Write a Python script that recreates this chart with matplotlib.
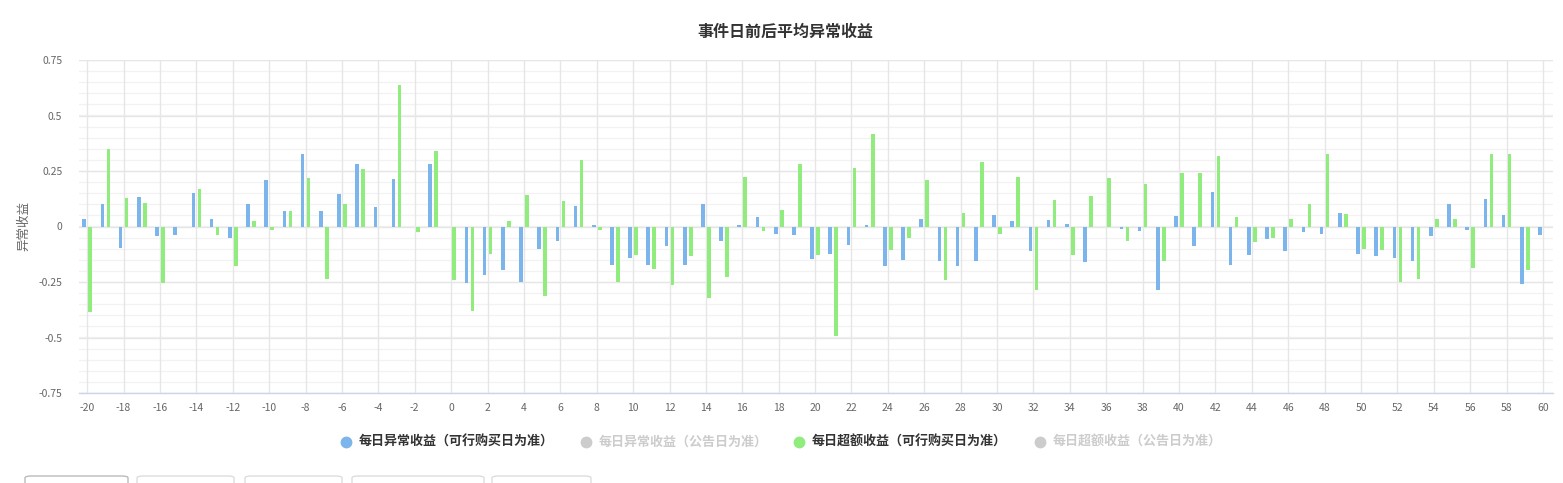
import matplotlib
matplotlib.use("Agg")
import matplotlib.pyplot as plt
from matplotlib.patches import FancyBboxPatch
from matplotlib.lines import Line2D
import numpy as np

plt.rcParams['font.family'] = ['Noto Sans CJK SC', 'DejaVu Sans']

title = "事件日前后平均异常收益"
y_label = "异常收益"
days = list(range(-20, 61))
blue_vals = [0.033, 0.102, -0.095, 0.135, -0.045, -0.039, 0.152, 0.033, -0.054, 0.102,
             0.211, 0.070, 0.328, 0.070, 0.147, 0.280, 0.089, 0.216, 0.0, 0.280,
             0.0, -0.255, -0.219, -0.198, -0.249, -0.100, -0.066, 0.093, 0.007, -0.172,
             -0.140, -0.172, -0.090, -0.172, 0.102, -0.067, 0.007, 0.042, -0.035, -0.040,
             -0.146, -0.122, -0.085, 0.007, -0.180, -0.150, 0.036, -0.155, -0.180, -0.157,
             0.051, 0.024, -0.112, 0.028, 0.010, -0.162, 0.0, -0.013, -0.020, -0.288,
             0.048, -0.090, 0.156, -0.172, -0.130, -0.058, -0.110, -0.025, -0.035, 0.060,
             -0.122, -0.135, -0.140, -0.155, -0.045, 0.102, -0.016, 0.124, 0.052, -0.261,
             -0.039]
green_vals = [-0.387, 0.348, 0.129, 0.105, -0.255, 0.0, 0.170, -0.039, -0.177, 0.026,
              -0.015, 0.070, 0.220, -0.237, 0.102, 0.261, 0.0, 0.636, -0.027, 0.339,
              -0.240, -0.382, -0.126, 0.024, 0.142, -0.312, 0.115, 0.301, -0.016, -0.249,
              -0.130, -0.192, -0.264, -0.135, -0.324, -0.226, 0.225, -0.022, 0.074, 0.280,
              -0.130, -0.495, 0.264, 0.415, -0.107, -0.054, 0.211, -0.240, 0.060, 0.292,
              -0.035, 0.223, -0.285, 0.118, -0.130, 0.138, 0.219, -0.067, 0.192, -0.157,
              0.241, 0.241, 0.316, 0.042, -0.072, -0.050, 0.032, 0.100, 0.325, 0.055,
              -0.100, -0.108, -0.249, -0.237, 0.036, 0.032, -0.186, 0.325, 0.325, -0.195,
              0.0]
series_names = ["每日异常收益（可行购买日为准）", "每日异常收益（公告日为准）",
                "每日超额收益（可行购买日为准）", "每日超额收益（公告日为准）"]
series_visible = [True, False, True, False]
series_colors = ["#7cb5ec", "#cccccc", "#90ed7d", "#cccccc"]
y_ticks = [-0.75, -0.5, -0.25, 0, 0.25, 0.5, 0.75]
y_tick_labels = ["-0.75", "-0.5", "-0.25", "0", "0.25", "0.5", "0.75"]
x_ticks = list(range(-20, 61, 2))

W, H = 1563, 483
fig = plt.figure(figsize=(W / 100, H / 100), dpi=100)
L, R, T, B = 79, 1553, 60, 393
ax = fig.add_axes([L / W, 1 - B / H, (R - L) / W, (B - T) / H])

x = np.array(days)
bw = 0.2
off = 0.165
ax.bar(x - off, blue_vals, width=bw, color="#7cb5ec", zorder=3, linewidth=0)
ax.bar(x + off, green_vals, width=bw, color="#90ed7d", zorder=3, linewidth=0)

ax.set_xlim(-20.45, 60.55)
ax.set_ylim(-0.75, 0.75)

# minor grid
for v in np.arange(-0.75, 0.7501, 0.05):
    ax.axhline(v, color="#f2f2f2", lw=0.9, zorder=0)
for v in y_ticks:
    ax.axhline(v, color="#e6e6e6", lw=1.0, zorder=1)
for v in x_ticks:
    ax.axvline(v, color="#e6e6e6", lw=1.0, zorder=1)

ax.set_yticks(y_ticks)
ax.set_yticklabels(y_tick_labels)
ax.set_xticks(x_ticks)
ax.set_xticklabels([str(t) for t in x_ticks])
ax.tick_params(axis='y', length=0, pad=12, labelsize=7.5, colors="#666666")
ax.tick_params(axis='x', length=0, pad=7, labelsize=7.5, colors="#666666")
for s in ["top", "right", "left"]:
    ax.spines[s].set_visible(False)
ax.spines["bottom"].set_color("#ccd6eb")
ax.spines["bottom"].set_linewidth(1.0)
ax.spines["bottom"].set_zorder(4)

fig.text(785 / W, 1 - 32 / H, title, ha="center", va="center",
         fontsize=11.5, fontweight="bold", color="#333333")
fig.text(24 / W, 1 - 226 / H, y_label, rotation=90, ha="center", va="center",
         fontsize=9, color="#666666")

# legend
leg_x = [346, 586, 799, 1040]
leg_y = 442
for nm, vis, col, lx in zip(series_names, series_visible, series_colors, leg_x):
    fig.add_artist(Line2D([lx / W], [1 - leg_y / H], marker="o", markersize=7.5,
                          color=col, linestyle="none", transform=fig.transFigure))
    fig.text((lx + 13) / W, 1 - leg_y / H, nm, ha="left", va="center", fontsize=9.4,
             fontweight="bold", color="#333333" if vis else "#cccccc")

# bottom tabs
tabs = [(25, 128), (137, 234), (245, 342), (352, 484), (492, 591)]
for i, (a, b) in enumerate(tabs):
    p = FancyBboxPatch((a / W, 1 - 500 / H), (b - a) / W, 24 / H,
                       boxstyle="round,pad=0,rounding_size=0.004",
                       transform=fig.transFigure, facecolor="white",
                       edgecolor="#bbbbbb" if i == 0 else "#dddddd", lw=1.0)
    fig.add_artist(p)

fig.savefig("out.png", dpi=100)
